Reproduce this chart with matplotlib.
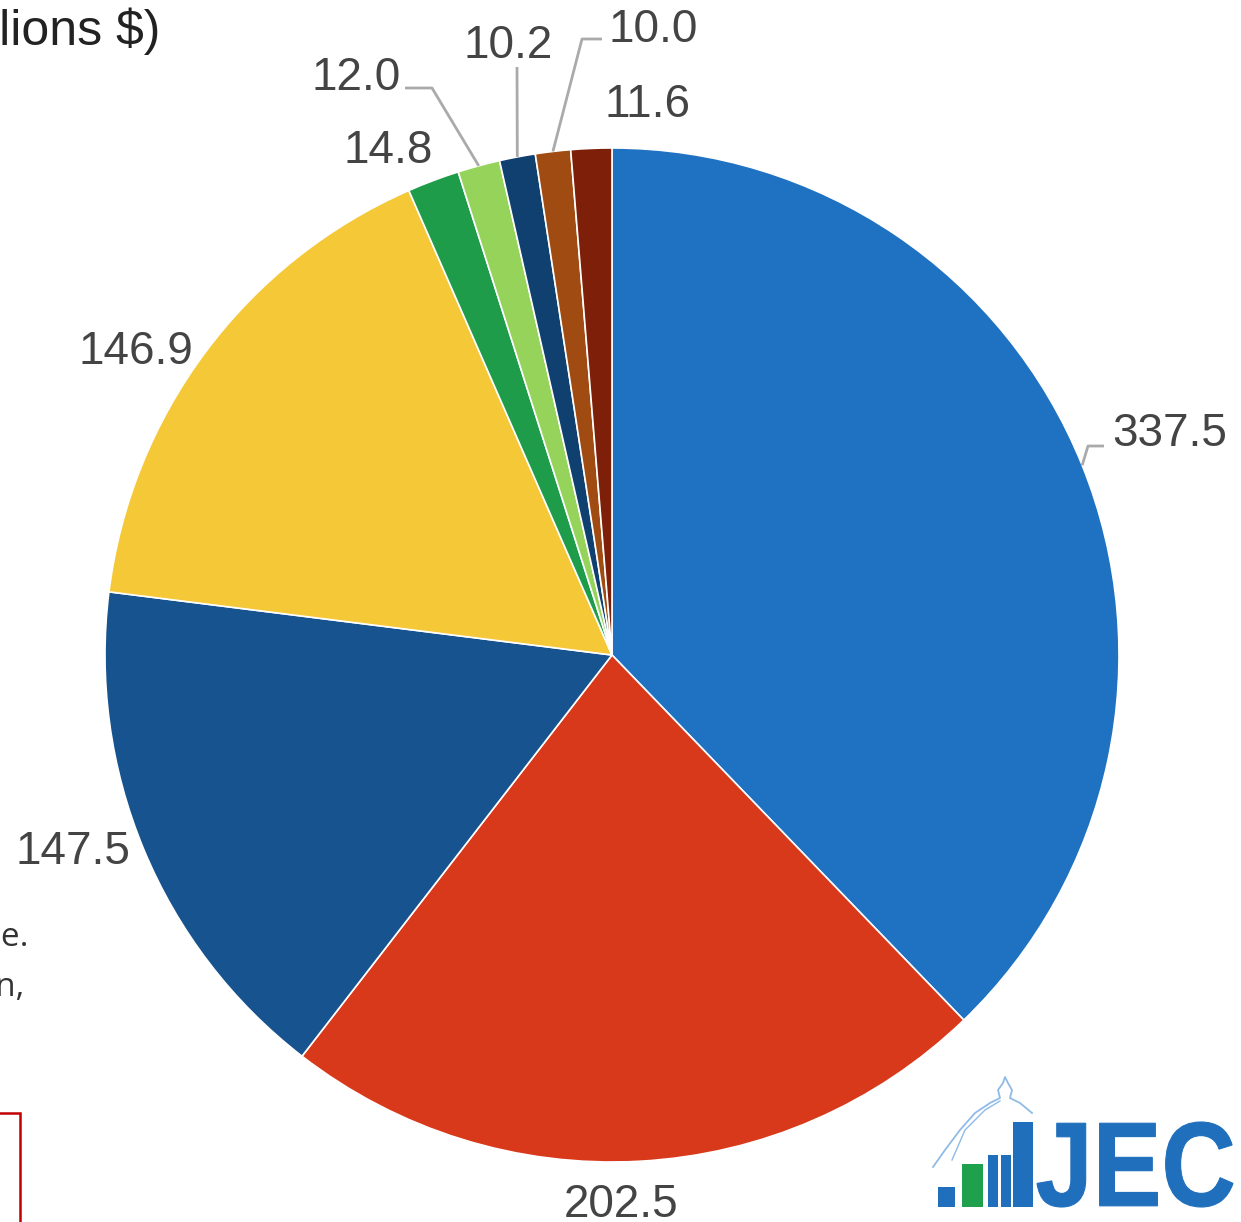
"""Pie chart of spending by category (Billions $), JEC style."""
import matplotlib
matplotlib.use("Agg")
import numpy as np
import matplotlib.pyplot as plt
from matplotlib.patches import Rectangle, PathPatch
from matplotlib.textpath import TextPath
from matplotlib.font_manager import FontProperties
from matplotlib.transforms import Affine2D

W, H = 1241, 1222

values = [337.5, 202.5, 147.5, 146.9, 14.8, 12.0, 10.2, 10.0, 11.6]
labels = [f"{v:.1f}" for v in values]
colors = ["#1f71c2", "#d8391a", "#16538f", "#f5c838", "#1e9c4a",
          "#95d35b", "#10406f", "#a04b12", "#7e1f0a"]

# label layout in pixel coords (y down): x, baseline, alignment
label_layout = [(1112, 446, "left"), (621, 1217, "center"), (73, 864, "center"),
                (136, 364, "center"), (388, 163, "center"), (401, 90, "right"),
                (508, 58, "center"), (609, 42, "left"), (605, 117, "left")]
# leader elbows in pixel coords, None = no leader line
leaders = [[(1088, 446), (1104, 446)], None, None, None, None,
           [(432, 88), (405, 88)], [(517, 67)], [(582, 39), (602, 39)], None]


def py(y):
    return H - y


fig = plt.figure(figsize=(W / 100, H / 100), dpi=100)
ax = fig.add_axes([0, 0, 1, 1])
wedges, _ = ax.pie(values, colors=colors, startangle=90, counterclock=False,
                   center=(612, py(655)), radius=507,
                   wedgeprops=dict(edgecolor="white", linewidth=1.2))
ax.set_xlim(0, W)
ax.set_ylim(0, H)
ax.set_aspect("equal")
ax.axis("off")

for wedge, text, (lx, ly, ha), elbow in zip(wedges, labels, label_layout, leaders):
    ax.text(lx, py(ly), text, ha=ha, va="baseline", fontsize=33,
            family="Liberation Sans", color="#444444")
    if elbow:
        mid = np.deg2rad((wedge.theta1 + wedge.theta2) / 2)
        cx, cy = wedge.center
        xs = [cx + wedge.r * np.cos(mid)] + [p[0] for p in elbow]
        ys = [cy + wedge.r * np.sin(mid)] + [py(p[1]) for p in elbow]
        ax.plot(xs, ys, color="#aaaaaa", linewidth=2, solid_capstyle="butt")

# clipped title and note text from the surrounding page
ax.text(160, py(45), "Federal Spending (Billions $)", ha="right", va="baseline",
        fontsize=36, family="Liberation Sans", color="#222222")
ax.text(29, py(946), "Source: JEC estimates based on Treasury and OMB data from the same source base.",
        ha="right", va="baseline", fontsize=24, family="Open Sans", color="#333333")
ax.text(24, py(996), "Note: Totals may not sum due to rounding; categories shown by function,",
        ha="right", va="baseline", fontsize=24, family="Open Sans", color="#333333")
ax.add_patch(Rectangle((-10, -10), 30, py(1113) + 10, fill=False,
                       edgecolor="#c00000", linewidth=1.8, clip_on=False))

# JEC logo
logo_blue = "#1f6fbd"
bars = [(938, 955, 1187, logo_blue), (962, 983, 1164, "#1ea04d"),
        (988, 998, 1155, logo_blue), (1001, 1011, 1155, logo_blue),
        (1013, 1033, 1122, logo_blue)]
for x0, x1, top, c in bars:
    ax.add_patch(Rectangle((x0, py(1207)), x1 - x0, 1207 - top, color=c, linewidth=0))
dome = [(933, 1167), (945, 1150), (960, 1130), (975, 1113), (990, 1103), (1000, 1098),
        (998, 1090), (1003, 1083), (1005, 1077), (1008, 1083), (1012, 1090),
        (1010, 1098), (1020, 1103), (1032, 1113)]
ax.plot([p[0] for p in dome], [py(p[1]) for p in dome], color="#8fbbe8", linewidth=1.3)
ax.plot([952, 965, 985, 1000], [py(1160), py(1130), py(1110), py(1101)], color="#8fbbe8", linewidth=1.0)

tp = TextPath((0, 0), "JEC", size=1, prop=FontProperties(family="Liberation Sans", weight="bold"))
ext = tp.get_extents()
sx = (1233 - 1037) / ext.width
sy = (1207 - 1122) / ext.height
trans = Affine2D().translate(-ext.x0, -ext.y0).scale(sx, sy).translate(1037, py(1207))
ax.add_patch(PathPatch(trans.transform_path(tp), color=logo_blue, linewidth=0.8))

fig.savefig("out.png", dpi=100)
plt.close(fig)
